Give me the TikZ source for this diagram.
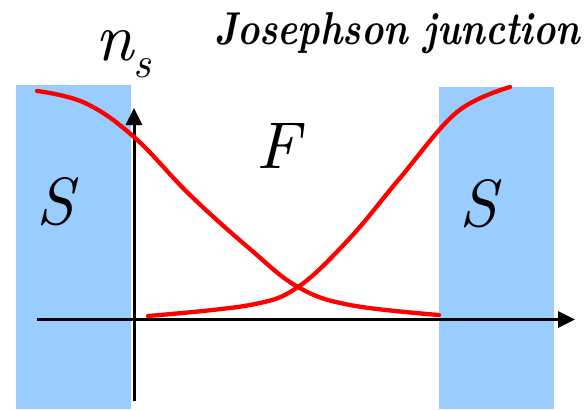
\documentclass[tikz,border=0pt]{standalone}
\usepackage{graphicx}
\usetikzlibrary{arrows.meta}
\definecolor{slab}{RGB}{153,204,255}
\tikzset{
  slabbox/.style={fill=slab, draw=none},
  axis/.style={line width=3pt, -{Triangle[length=17pt,width=16pt]}},
  curve/.style={red, line width=4.3pt, line cap=round},
  lbl/.style={anchor=base west, inner sep=0pt, outer sep=0pt},
}
\begin{document}
\begin{tikzpicture}[x=1pt,y=-1pt]
\useasboundingbox (0,0) rectangle (588,409);
% superconductor slabs
\fill[slabbox] (16,85) rectangle (131,409);
\fill[slabbox] (439,87) rectangle (554,409);
% axes
\coordinate (xs) at (37,319.5);
\coordinate (xe) at (575,319.5);
\coordinate (ys) at (134,401);
\coordinate (ye) at (134,108);
\draw[axis] (xs) -- (xe);
\draw[axis] (ys) -- (ye);
% curves
\draw[curve] plot[smooth, tension=0.65] coordinates {(37,91) (85,103) (134,137) (190,195) (250,249) (298,287) (350,305) (439,315)};
\draw[curve] plot[smooth, tension=0.6] coordinates {(148,316) (250,305) (298,287) (350,238) (400,178) (457,112) (510,87)};
% labels
\node[lbl] (ns) at (95,61) {\resizebox{!}{30pt}{\itshape n}};
\node[lbl] (sub) at (133,78) {\resizebox{!}{19pt}{\itshape s}};
\node[lbl] (F) at (256,168) {\resizebox{!}{45pt}{\itshape F}};
\node[lbl] (S1) at (36,224) {\resizebox{!}{47pt}{\itshape S}};
\node[lbl] (S2) at (459,226) {\resizebox{!}{47pt}{\itshape S}};
\node[lbl] (title) at (214,45) {\resizebox{366pt}{32pt}{\bfseries\itshape Josephson junction}};
\end{tikzpicture}
\end{document}
